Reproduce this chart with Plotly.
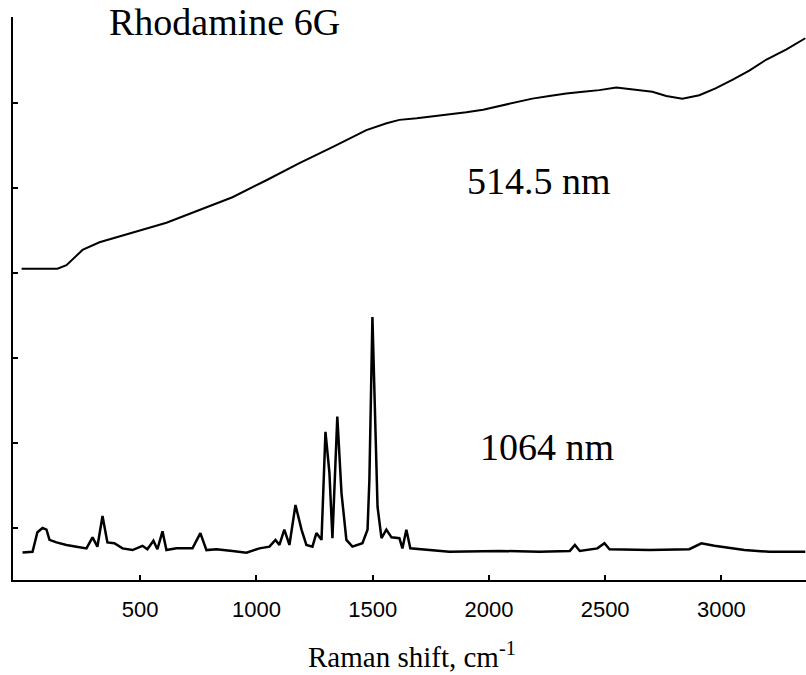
import plotly.graph_objects as go

# 514.5 nm excitation (fluorescence background), arbitrary units
x_514 = [-10, 144, 183, 252, 325, 467, 613, 755, 897, 1043, 1185, 1327, 1473, 1560, 1615,
         1690, 1757, 1830, 1903, 1975, 2045, 2115, 2187, 2260, 2333, 2405, 2475, 2548,
         2617, 2703, 2763, 2832, 2905, 2975, 3047, 3120, 3194, 3280, 3361]
y_514 = [3.05, 3.05, 3.09, 3.27, 3.36, 3.47, 3.59, 3.74, 3.89, 4.09, 4.29, 4.48, 4.68, 4.76, 4.80,
         4.82, 4.84, 4.86, 4.89, 4.92, 4.96, 5.00, 5.05, 5.08, 5.11, 5.13, 5.15, 5.18,
         5.16, 5.13, 5.08, 5.05, 5.09, 5.17, 5.27, 5.38, 5.51, 5.63, 5.76]

# 1064 nm excitation (FT-Raman spectrum), arbitrary units
x_1064 = [-6, 37, 58, 80, 97, 110, 140, 183, 226, 269, 295, 316, 338, 359, 389, 424, 467,
          510, 531, 557, 574, 596, 613, 656, 725, 759, 785, 828, 897, 957, 1013, 1056,
          1082, 1099, 1120, 1142, 1168, 1194, 1215, 1241, 1258, 1280, 1297, 1314, 1327,
          1348, 1366, 1387, 1413, 1456, 1478, 1486, 1499, 1512, 1521, 1538, 1559, 1581,
          1615, 1628, 1645, 1662, 1701, 1830, 2045, 2217, 2348, 2370, 2391, 2467, 2497,
          2519, 2691, 2862, 2914, 2970, 3099, 3207, 3361]
y_1064 = [-0.29, -0.28, -0.05, 0.0, -0.02, -0.14, -0.17, -0.20, -0.22, -0.24, -0.11, -0.22,
          0.14, -0.17, -0.18, -0.24, -0.26, -0.21, -0.25, -0.15, -0.25, -0.04, -0.26, -0.24,
          -0.24, -0.06, -0.26, -0.25, -0.27, -0.29, -0.24, -0.22, -0.14, -0.20, -0.02, -0.20,
          0.27, -0.02, -0.20, -0.22, -0.06, -0.14, 1.13, 0.65, -0.12, 1.31, 0.41, -0.14, -0.22,
          -0.18, -0.02, 0.57, 2.48, 1.27, 0.25, -0.12, -0.02, -0.11, -0.12, -0.24, -0.02, -0.24,
          -0.25, -0.28, -0.27, -0.28, -0.27, -0.20, -0.27, -0.24, -0.18, -0.25, -0.26, -0.25,
          -0.18, -0.21, -0.26, -0.28, -0.28]

x_ticks = [500, 1000, 1500, 2000, 2500, 3000]
y_ticks = [0, 1, 2, 3, 4, 5, 6]

fig = go.Figure()
fig.add_trace(go.Scatter(x=x_514, y=y_514, mode="lines",
                         line=dict(color="black", width=2), showlegend=False))
fig.add_trace(go.Scatter(x=x_1064, y=y_1064, mode="lines",
                         line=dict(color="black", width=2.5), showlegend=False))

serif = "Liberation Serif, Times New Roman, serif"
fig.add_annotation(x=862, y=5.95, text="Rhodamine 6G", showarrow=False,
                   font=dict(family=serif, size=38, color="black"))
fig.add_annotation(x=2217, y=4.08, text="514.5 nm", showarrow=False,
                   font=dict(family=serif, size=38, color="black"))
fig.add_annotation(x=2251, y=0.95, text="1064 nm", showarrow=False,
                   font=dict(family=serif, size=38, color="black"))
fig.add_annotation(x=0.503, y=-0.134, xref="paper", yref="paper",
                   text="Raman shift, cm<sup>-1</sup>", showarrow=False,
                   yanchor="middle", font=dict(family=serif, size=29, color="black"))

fig.update_layout(
    width=806, height=675,
    margin=dict(l=13, r=0, t=17, b=95),
    paper_bgcolor="white", plot_bgcolor="white",
    xaxis=dict(range=[-47, 3364], tickvals=x_ticks, ticks="inside", ticklen=5,
               tickwidth=1.5, tickcolor="black", showline=True, linecolor="black",
               linewidth=2, showgrid=False, zeroline=False, ticklabelstandoff=9,
               tickfont=dict(family="Liberation Sans, Arial, sans-serif", size=22,
                             color="black")),
    yaxis=dict(range=[-0.612, 6.01], tickvals=y_ticks, ticks="inside", ticklen=5,
               tickwidth=1.5, tickcolor="black", showline=True, linecolor="black",
               linewidth=2, showgrid=False, zeroline=False, showticklabels=False),
)

fig.write_html("out.html")
